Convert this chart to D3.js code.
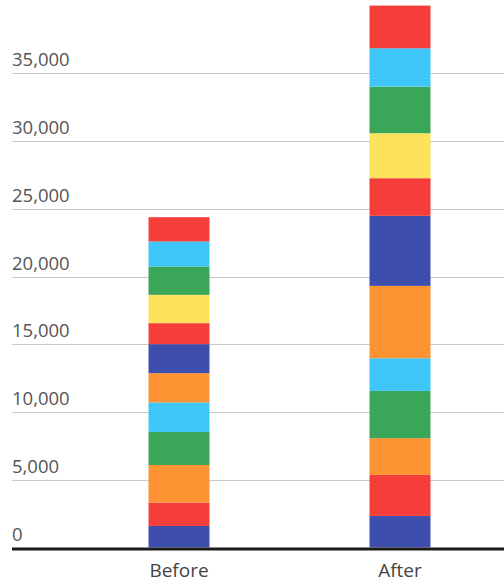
<!DOCTYPE html>
<html>
<head>
<meta charset="utf-8">
<script src="https://cdn.jsdelivr.net/npm/d3@7/dist/d3.min.js"></script>
<style>
  html, body { margin: 0; padding: 0; background: #fff; }
  svg { display: block; font-family: "Open Sans", sans-serif; }
</style>
</head>
<body>
<svg id="chart" width="504" height="582"></svg>
<script>
// Stacked segments, bottom to top, for each category
const categories = ["Before", "After"];
const seriesNames = ["s1", "s2", "s3", "s4", "s5", "s6", "s7", "s8", "s9", "s10", "s11", "s12"];
const beforeValues = [1590, 1730, 2770, 2440, 2180, 2160, 2140, 1550, 2090, 2090, 1850, 1790];
const afterValues  = [2330, 3030, 2710, 3490, 2410, 5340, 5170, 2780, 3320, 3440, 2830, 3150];
const seriesColors = ["#3e4ead", "#f53d3a", "#fd9331", "#3aa65a", "#3ec6f9", "#fd9331",
                      "#3e4ead", "#f53d3a", "#fde35c", "#3aa65a", "#3ec6f9", "#f53d3a"];
const tickValues = [0, 5000, 10000, 15000, 20000, 25000, 30000, 35000];

const svg = d3.select("#chart");

const rows = categories.map((c, i) => {
  const vals = i === 0 ? beforeValues : afterValues;
  const row = { category: c };
  seriesNames.forEach((s, j) => { row[s] = vals[j]; });
  return row;
});

const stacked = d3.stack().keys(seriesNames)(rows);

const y = d3.scaleLinear().domain([0, 40000]).range([547.5, 5.6]);
const x = d3.scaleBand().domain(categories)
  .range([68.5, 510.5]).paddingInner(0.724).paddingOuter(0.362);

const left = 12, right = 504;

// Horizontal gridlines with labels sitting above them
const grid = svg.append("g");
grid.selectAll("line").data(tickValues.filter(d => d > 0)).join("line")
  .attr("x1", left).attr("x2", right)
  .attr("y1", d => Math.round(y(d)) + 0.5).attr("y2", d => Math.round(y(d)) + 0.5)
  .attr("stroke", "#c8c8c8").attr("stroke-width", 1);

grid.selectAll("text").data(tickValues).join("text")
  .attr("x", left)
  .attr("y", d => y(d) - 7)
  .attr("fill", "#555")
  .attr("font-size", 18.5)
  .text(d3.format(","));

// Stacked bars
svg.append("g").selectAll("g").data(stacked).join("g")
  .attr("fill", (d, i) => seriesColors[i])
  .selectAll("rect").data(d => d).join("rect")
  .attr("x", d => x(d.data.category))
  .attr("width", x.bandwidth())
  .attr("y", d => y(d[1]))
  .attr("height", d => y(d[0]) - y(d[1]));

// Baseline
svg.append("line")
  .attr("x1", left).attr("x2", right)
  .attr("y1", 549).attr("y2", 549)
  .attr("stroke", "#1a1a1a").attr("stroke-width", 3);

// Category labels
svg.append("g").selectAll("text").data(categories).join("text")
  .attr("x", d => x(d) + x.bandwidth() / 2)
  .attr("y", 577)
  .attr("text-anchor", "middle")
  .attr("fill", "#444")
  .attr("font-size", 19)
  .text(d => d);
</script>
</body>
</html>
